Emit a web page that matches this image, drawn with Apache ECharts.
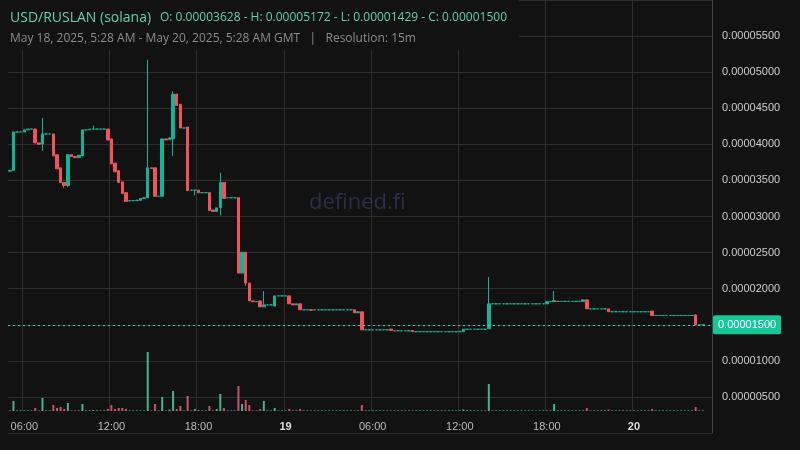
<!DOCTYPE html>
<html>
<head>
<meta charset="utf-8">
<script src="https://cdn.jsdelivr.net/npm/echarts@6/dist/echarts.min.js"></script>
<style>
  html, body { margin: 0; padding: 0; background: #121212; }
  #chart { width: 800px; height: 450px; }
</style>
</head>
<body>
<div id="chart"></div>
<script>
// 15 分钟 K 线，价格单位 1e-8
var opens = [
  3628,3640,4171,4171,4171,4200,4212,4212,4020,4006,4144,4144,4144,3855,3675,3470,
  3430,3855,3830,3815,3840,4200,4200,4210,4212,4212,4212,4212,4075,3740,3634,3480,
  3330,3215,3220,3220,3225,3250,3260,3675,3675,3280,3280,4075,4065,4075,4695,4556,
  4226,4240,3365,3365,3365,3330,3330,3330,3090,3070,3125,3470,3260,3260,3260,3260,
  2216,2505,2078,1830,1820,1830,1748,1775,1775,1760,1900,1900,1900,1900,1790,1775,
  1790,1707,1707,1710,1707,1707,1707,1707,1707,1707,1707,1707,1707,1707,1707,1707,
  1665,1680,1430,1430,1430,1430,1430,1430,1430,1440,1417,1417,1417,1417,1417,1420,
  1404,1404,1404,1404,1404,1404,1404,1404,1404,1404,1404,1404,1404,1404,1438,1438,
  1438,1438,1438,1438,1445,1790,1790,1790,1790,1790,1790,1790,1790,1790,1790,1790,
  1790,1790,1790,1790,1790,1820,1820,1824,1824,1824,1824,1824,1824,1824,1824,1845,
  1720,1720,1720,1720,1720,1720,1680,1680,1680,1680,1680,1680,1680,1680,1680,1680,
  1680,1690,1628,1628,1628,1628,1628,1628,1628,1628,1628,1628,1628,1637,1500,1500
];
var closes = [
  3640,4171,4171,4171,4200,4212,4212,4020,4000,4144,4144,4144,3840,3660,3470,3430,
  3855,3830,3815,3850,4200,4200,4210,4212,4212,4212,4212,4060,3730,3620,3470,3320,
  3210,3220,3220,3225,3250,3260,3675,3665,3280,3280,4075,4060,4090,4695,4540,4226,
  4226,3360,3365,3365,3330,3330,3330,3085,3070,3120,3470,3250,3260,3260,3260,2216,
  2505,2078,1830,1820,1820,1748,1775,1775,1775,1900,1900,1900,1900,1790,1775,1790,
  1707,1707,1707,1700,1707,1707,1707,1707,1707,1707,1707,1707,1707,1707,1707,1665,
  1680,1430,1430,1430,1430,1430,1430,1430,1430,1420,1417,1417,1417,1417,1417,1404,
  1404,1404,1404,1404,1404,1404,1404,1404,1404,1404,1404,1404,1404,1438,1438,1438,
  1438,1438,1438,1438,1790,1790,1790,1790,1790,1790,1790,1790,1790,1790,1790,1790,
  1790,1790,1790,1790,1820,1820,1835,1824,1824,1824,1824,1824,1824,1824,1845,1720,
  1720,1720,1720,1720,1720,1680,1680,1680,1680,1680,1680,1680,1680,1680,1680,1680,
  1680,1628,1628,1628,1628,1628,1628,1628,1628,1628,1628,1628,1628,1500,1500,1500
];
// 影线: [序号, 最低, 最高]
var wicks = [
  [9, 3910, 4364], [15, 3400, 3480], [16, 3410, 3855], [23, 4210, 4260],
  [38, 3260, 5172], [45, 3840, 4736], [51, 3290, 3365], [58, 3015, 3607],
  [65, 2040, 2505], [70, 1748, 1968], [132, 1445, 2160], [150, 1820, 1968]
];
var volumes = [
  0.6,10,0.6,0.6,0.6,0.6,0.6,3,0.6,13,0.6,0.6,6,3,4,2,
  8,0.6,0.6,0.6,7,0.6,0.6,1,0.6,0.6,0.6,2,6,2,3,3,
  2,0.6,0.6,0.6,0.6,0.6,59,0.6,7,0.6,14,0.6,1.5,20,2,5,
  0.6,15,0.6,2,1,0.6,0.6,5,0.6,2,17,3,0.6,0.6,0.6,25,
  7,11,6,0.6,0.6,2,10,0.6,0.6,3,0.6,0.6,0.6,2,0.6,0.6,
  2,0.6,0.6,0.6,0.6,0.6,0.6,0.6,0.6,0.6,0.6,0.6,0.6,0.6,0.6,0.6,
  0.6,6,0.6,0.6,0.6,0.6,0.6,0.6,0.6,0.6,0.6,0.6,0.6,0.6,0.6,0.6,
  0.6,0.6,0.6,0.6,0.6,0.6,0.6,0.6,0.6,0.6,0.6,0.6,0.6,1.5,0.6,0.6,
  0.6,0.6,0.6,0.6,27,0.6,0.6,0.6,0.6,0.6,0.6,0.6,0.6,0.6,0.6,0.6,
  0.6,0.6,0.6,0.6,0.6,0.6,7,0.6,0.6,0.6,0.6,0.6,0.6,0.6,0.6,3,
  0.6,0.6,0.6,0.6,0.6,1.5,0.6,0.6,0.6,0.6,0.6,0.6,0.6,0.6,0.6,0.6,
  0.6,2,0.6,0.6,0.6,0.6,0.6,0.6,0.6,0.6,0.6,0.6,0.6,4,0.6,0.6
];
var lastPrice = 1500;

// 时间轴: 2025-05-18 05:00 起，每 15 分钟一格
var times = [];
(function () {
  var t = Date.UTC(2025, 4, 18, 5, 0);
  for (var i = 0; i < 194; i++) {
    var d = new Date(t + i * 900000);
    var hh = ('0' + d.getUTCHours()).slice(-2);
    var mm = ('0' + d.getUTCMinutes()).slice(-2);
    times.push(d.getUTCDate() + ' ' + hh + ':' + mm);
  }
})();

var green = '#13b397', red = '#f2525c';
var candleData = [], volData = [];
opens.forEach(function (o, i) {
  var c = closes[i];
  var lo = Math.min(o, c), hi = Math.max(o, c);
  wicks.forEach(function (w) {
    if (w[0] === i) { lo = Math.min(lo, w[1]); hi = Math.max(hi, w[2]); }
  });
  candleData.push([o, c, lo, hi]);
  volData.push({
    value: volumes[i],
    itemStyle: { color: c >= o ? 'rgba(79,209,165,.85)' : 'rgba(232,96,120,.85)' }
  });
});

function sixHour(idx, val) {
  var hm = val.split(' ')[1];
  return hm === '00:00' || hm === '06:00' || hm === '12:00' || hm === '18:00';
}
function fmtPrice(v) {
  return (v * 1e-8).toFixed(8);
}

var myChart = echarts.init(document.getElementById('chart'));
var option = {
  backgroundColor: '#121212',
  animation: false,
  grid: [
    { left: 8, right: 88, top: -3, bottom: 17 },  // 价格
    { left: 8, right: 88, top: 340, bottom: 39 }, // 成交量
    { left: 8, right: 88, top: -3, bottom: 39 }   // 竖网格线
  ],
  xAxis: [
    { type: 'category', gridIndex: 0, data: times, axisLine: { show: false },
      axisTick: { show: false }, axisLabel: { show: false }, splitLine: { show: false } },
    { type: 'category', gridIndex: 1, data: times,
      axisLine: { show: false },
      axisTick: { show: false },
      splitLine: { show: false },
      axisLabel: {
        interval: sixHour,
        color: '#bbbbbb',
        fontSize: 11,
        margin: 10,
        formatter: function (val) {
          var p = val.split(' ');
          if (p[1] === '00:00') return '{b|' + p[0] + '}';
          return p[1];
        },
        rich: { b: { fontWeight: 'bold', color: '#dddddd', fontSize: 11 } }
      } },
    { type: 'category', gridIndex: 2, data: times, axisLine: { show: false },
      axisTick: { show: false }, axisLabel: { show: false },
      splitLine: { show: true, interval: sixHour, lineStyle: { color: '#2e2e2e' } } }
  ],
  yAxis: [
    { type: 'value', gridIndex: 0, position: 'right', min: 0, max: 6000, interval: 500,
      axisLine: { show: true, lineStyle: { color: '#444' } },
      axisTick: { show: false },
      splitLine: { lineStyle: { color: '#2e2e2e' } },
      axisLabel: {
        color: '#cccccc', fontSize: 11, margin: 10,
        formatter: function (v) { return (v <= 0 || v > 5500) ? '' : fmtPrice(v); }
      } },
    { type: 'value', gridIndex: 1, min: 0, max: 71, show: false },
    { type: 'value', gridIndex: 2, show: false }
  ],
  series: [
    {
      type: 'candlestick',
      xAxisIndex: 0, yAxisIndex: 0,
      barWidth: 3,
      data: candleData,
      itemStyle: { color: green, color0: red, borderColor: green, borderColor0: red, borderWidth: 1 },
      markLine: {
        symbol: 'none',
        silent: true,
        data: [{ yAxis: lastPrice }],
        lineStyle: { color: '#4fd1a5', type: [2, 3], width: 1 },
        label: {
          position: 'end',
          distance: 1,
          formatter: function () { return fmtPrice(lastPrice); },
          backgroundColor: '#16c79a',
          color: '#ffffff',
          fontSize: 11,
          padding: [4, 5],
          borderRadius: 2
        }
      }
    },
    {
      type: 'bar',
      xAxisIndex: 1, yAxisIndex: 1,
      barWidth: 2,
      data: volData
    }
  ],
  graphic: [
    { type: 'rect', left: 0, top: 0, z: 50, shape: { width: 519, height: 50 }, style: { fill: '#121212' } },
    { type: 'text', left: 10, top: 11, z: 51,
      style: { text: 'USD/RUSLAN (solana)', fill: '#5dd3b0', font: '14px "Open Sans"' } },
    { type: 'text', left: 160, top: 12, z: 51,
      style: { text: 'O: 0.00003628 - H: 0.00005172 - L: 0.00001429 - C: 0.00001500', fill: '#5dd3b0', font: '12px "Open Sans"' } },
    { type: 'text', left: 10, top: 33, z: 51,
      style: { text: 'May 18, 2025, 5:28 AM - May 20, 2025, 5:28 AM GMT   |   Resolution: 15m', fill: '#8c8c8c', font: '12px "Open Sans"' } },
    { type: 'text', left: 309, top: 192, z: 1,
      style: { text: 'defined.fi', fill: '#2a2e48', font: '22px "Open Sans"' } }
  ]
};
myChart.setOption(option);
</script>
</body>
</html>
